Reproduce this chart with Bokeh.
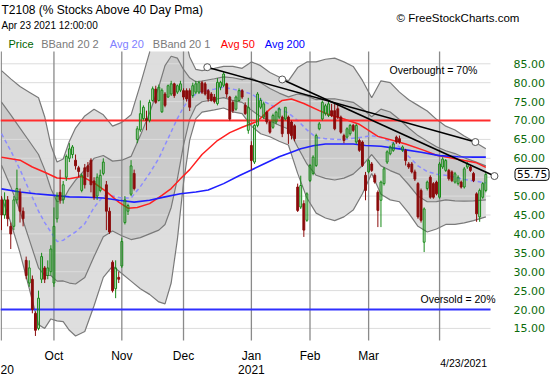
import numpy as np
from bokeh.plotting import figure
from bokeh.models import Label, Range1d
from bokeh.embed import file_html
from bokeh.resources import INLINE

# ---------------- data ----------------
# daily candles, trading-day index 0 = Sep 8 2020 ... 157 = Apr 23 2021
opens = [49, 45, 49, 42, 42, 49, 51, 46, 33, 27,
         28, 19, 15, 28, 31, 29, 30, 27, 44, 51,
         49, 55, 60, 61, 59.5, 57.5, 51.5, 57.5, 58, 59.5,
         54, 50, 51.5, 56, 53, 46, 32.5, 25.5, 28.5, 31.5,
         43, 46, 50.5, 56, 65, 67.5, 70.5, 70.5, 70, 75.3,
         78.3, 75.3, 72.3, 77, 76.2, 77, 79.7, 77.5, 78, 77.9,
         77.9, 77.9, 76.6, 77.5, 77.5, 80, 79.7, 77.9, 77, 76.2,
         74.5, 78.8, 79.3, 79.7, 76.2, 74.8, 73, 75.3, 77.9, 74,
         67.4, 63.4, 59, 68.7, 73.5, 70.9, 72.2, 69.6, 68.2, 69.6,
         70.9, 70.9, 70.4, 70.9, 69.6, 68.6, 52.4, 47.1, 48, 43.6,
         54.1, 56, 58.1, 67.8, 70.4, 71.8, 71.3, 72.6, 72.6, 73.1,
         70.9, 66, 65.6, 66.5, 68.7, 64.3, 64.7, 64.3, 55.5, 56.4,
         58.5, 55.5, 51, 48.9, 53.3, 59, 61.2, 62.1, 65.6, 65.2,
         62.1, 62.1, 58.5, 58.5, 56.4, 53.3, 51.5, 37.8, 52, 55,
         53.3, 53.7, 49.7, 57.7, 56.8, 56.8, 56.4, 53.7, 53.3, 53.7,
         52.4, 57.7, 57.7, 56, 50.6, 44.5, 49.7, 51.5]
highs = [50, 51, 50, 43, 50, 57, 52, 47, 34, 33,
         29, 19.5, 25, 35, 31.5, 33, 37, 47, 51, 57,
         54, 61, 64, 63.5, 61, 58, 56, 58.5, 59, 60,
         55, 56, 57, 60, 54, 47, 33, 33, 30, 39,
         50, 48, 59.5, 57, 68.5, 75.3, 74, 72.6, 75.5, 79,
         79.2, 79.5, 78.5, 77.5, 79.5, 80.5, 80, 79.5, 80.5, 78.5,
         78.5, 78.5, 80, 80.5, 80.5, 80.5, 80.2, 78.3, 77.5, 77,
         81.2, 80.5, 82.8, 80, 76.5, 75.3, 76.6, 78.5, 78.3, 74.8,
         76, 64.5, 69, 77.5, 76, 75, 72.6, 70, 71.8, 72.6,
         73.5, 71.3, 73.5, 71.3, 70, 69, 53.3, 55.4, 48.9, 51,
         58.5, 60.8, 66.5, 69.6, 75.3, 74.4, 75.3, 74.4, 74.4, 74.4,
         71.3, 66.5, 68.2, 69.1, 69.1, 69.1, 65.2, 64.7, 56.4, 59.8,
         59, 56, 51.5, 54.1, 57.7, 62.1, 63.4, 64.3, 66, 66,
         63.4, 62.5, 59, 59, 57, 53.7, 52, 47, 54.1, 55.5,
         53.7, 54.1, 59, 60.3, 59.8, 57.2, 56.8, 56.4, 55.5, 54.1,
         57.7, 59, 58.1, 56.4, 51, 52, 53.7, 56.5]
lows = [41, 44, 42, 36, 41, 48, 43, 42, 28, 26,
        19, 13, 14.5, 27, 27, 28, 29, 26, 43, 48,
        48, 54, 59, 60, 57, 55, 51, 52, 55, 51,
        49, 49, 51, 55.5, 41, 40, 24.5, 23, 27, 31,
        42.5, 45, 50, 51.5, 64, 67, 70, 67.4, 69.5, 75,
        74.4, 75, 72, 73.5, 76, 76.5, 76, 77, 77.5, 75.5,
        75, 72.5, 76, 77, 77, 77, 76.6, 75, 75, 74.5,
        74, 78, 78.8, 76, 70, 72, 72.6, 75, 75.7, 71.5,
        66.5, 56.8, 58.5, 68.2, 73, 70.4, 69, 66.5, 67.8, 69,
        70.4, 65.6, 70, 63.8, 65, 64.5, 45.8, 46.6, 39.2, 43.2,
        53.7, 55.5, 57.7, 67.4, 70, 71.3, 70.9, 70.9, 67.4, 70.4,
        66.5, 64, 65.2, 66, 67, 63.8, 61.7, 57.7, 48.9, 56,
        56.4, 53.3, 41.8, 41.8, 52.8, 58.5, 60.8, 61.7, 63.8, 63.8,
        61.7, 58.1, 57.2, 56, 54, 44, 43, 35.2, 51.5, 49.3,
        49.3, 50.2, 49.3, 57.2, 56.4, 54.1, 53.7, 53.3, 52.8, 52,
        52, 57.2, 56.4, 53.7, 43.2, 43.2, 49.3, 51]
closes = [45, 49, 44, 40, 49, 52, 46, 44, 29, 31,
          20, 14.5, 23, 34, 28, 31, 36, 42, 50, 49,
          53, 60.5, 62.5, 63, 58, 56.5, 55.5, 53, 56.5, 53,
          49.7, 55, 55.5, 59, 46, 40.5, 25, 31, 28, 38,
          49, 47.5, 58, 52, 67.8, 71.8, 73.5, 70, 74.8, 78.4,
          74.8, 78.8, 78, 74, 79.2, 79.7, 76.6, 79.2, 79.7, 76.2,
          75.7, 73.5, 79.2, 79.7, 80, 77.5, 77, 75.7, 75.3, 75,
          80.1, 80.1, 82.3, 77, 70.4, 72.6, 76.2, 77.9, 76.2, 71.8,
          73.5, 59.4, 68.7, 77, 75.3, 74.4, 69.6, 66.9, 71.3, 72.2,
          73.1, 66.5, 73.5, 66.5, 66, 65.2, 46.2, 52.8, 41, 50.6,
          58.1, 60.3, 66, 69.1, 74.8, 73.9, 74.4, 71.3, 67.8, 70.9,
          66.9, 64.7, 67.8, 68.7, 67.4, 68.7, 62.1, 58.1, 51.5, 59.4,
          56.8, 53.7, 46.2, 53.7, 57.2, 61.7, 63, 63.8, 64.3, 64.3,
          63, 59.4, 57.7, 56.4, 54.5, 44.5, 43.6, 46.6, 53.7, 49.7,
          49.7, 50.6, 58.5, 59.8, 59.4, 54.6, 54.1, 55.9, 55, 52.4,
          57.2, 58.5, 56.8, 54.1, 45.3, 51.5, 53.3, 55.75]

# Bollinger (20-day) middle line and its 2-sigma half width, read at sample days
band_days = [0, 3, 6, 9, 12, 14, 16, 18, 20, 22, 24, 27, 30, 33, 36, 39, 42, 45, 48, 51,
             53, 55, 57, 59, 61, 63, 65, 69, 72, 75, 78, 81, 84, 87, 90, 93, 96, 99, 102, 105,
             108, 111, 114, 117, 120, 123, 126, 129, 132, 135, 138, 141, 144, 147, 150, 153, 157]
avg20 = [66.5, 62, 57, 51.5, 46, 43, 40.5, 38, 38.3, 39.5, 40.5, 42.7, 47, 50, 50, 49.5, 49.5, 52.5, 56, 60,
         63.5, 67, 70.5, 73.5, 75.8, 77, 77.7, 78.3, 78.8, 78.3, 77.8, 77, 75.5, 74.2, 73, 72, 70, 67.5, 65.5, 65.2,
         65, 65, 65.3, 65.6, 66, 65.5, 64.5, 63, 60.5, 58, 56.5, 55.8, 55.5, 55, 54.4, 54, 53.5]
band_2sd = [16.7, 19, 22, 26, 30, 28, 23, 21, 21.5, 25, 27.5, 28.5, 26, 21.5, 18.5, 20, 22, 27, 32, 38,
            42, 40, 32, 20, 11, 6.5, 5.5, 5.5, 5.5, 6, 6, 8.5, 9, 8.5, 8.5, 8.5, 14, 18, 20, 21,
            21.5, 20.5, 19, 15, 10, 15, 15.5, 14.5, 15, 16, 16, 14.5, 13, 12.5, 11.5, 10.5, 9]

ma50_days = [0, 6, 10, 14, 18, 22, 26, 30, 34, 38, 41, 44, 48, 52, 55, 58, 61, 65, 70, 74,
             78, 83, 87, 91, 94, 98, 103, 107, 111, 116, 119, 122, 127, 131, 137, 141, 145, 150, 154, 157]
avg50 = [60.3, 59.5, 57.7, 56.3, 54.8, 54.6, 55.2, 53.5, 51.2, 48.4, 46.8, 47, 48, 50.2, 52, 54.6, 57, 61, 64.7, 66.8,
         68.2, 69.8, 73, 75.3, 75.7, 74.5, 72.6, 71.3, 70.4, 69, 67.4, 65.8, 64.7, 63.8, 62.1, 60.8, 60.2, 59.4, 58.8, 57.6]

ma200_days = [0, 6, 11, 17, 22, 28, 33, 38, 43, 48, 53, 58, 63, 67, 72, 77, 81, 85, 90, 94,
              97, 101, 105, 110, 114, 118, 123, 129, 136, 142, 148, 153, 157]
avg200 = [51.9, 51.1, 50.6, 50.2, 49.8, 49.7, 49.5, 48.9, 48.4, 48.9, 49.8, 50.6, 51.1, 51.6, 53.3, 55.4, 56.9, 58.5, 60.4, 61.6,
          62.5, 63.3, 63.8, 63.8, 63.8, 63.4, 63.2, 62.5, 61.6, 60.7, 60.4, 60.3, 60.3]

trend_days = [[66.7, 153.6], [91.0, 159.8]]
trend_values = [[84.1, 64.3], [80.85, 55.3]]

overbought = 70
oversold = 20
y_ticks = [15, 20, 25, 30, 35, 40, 45, 50, 55, 60, 65, 70, 75, 80, 85]
month_names = ["Oct", "Nov", "Dec", "Jan", "Feb", "Mar"]
month_days = [17, 39, 59, 81, 100, 119]
april_day = 142
last_date_label = "4/23/2021"
last_date_day = 149.8

legend_names = ["Price", "BBand 20 2", "Avg 20", "BBand 20 1", "Avg 50", "Avg 200"]
legend_colors = ["#006400", "#7a7a7a", "#8080ff", "#7a7a7a", "#ff0000", "#0000ff"]

# ---------------- layout ----------------
W, H = 550, 375
PLOT_T, PLOT_H = 51, 289          # price area inside the canvas (pixels)
Y0, Y1 = 11.8, 88.25              # value range of the price area
PX_DAY = 3.085
X0 = -1 / PX_DAY
X_LINES_END = (490 - 1) / PX_DAY
PX_VAL = PLOT_H / (Y1 - Y0)


def vy(fy):
    return Y1 - (fy - PLOT_T) / PX_VAL


def dx(fx):
    return X0 + fx / PX_DAY


p = figure(width=W, height=H, x_range=Range1d(X0, dx(W)), y_range=Range1d(vy(H), vy(0)),
           output_backend="svg", toolbar_location=None,
           x_axis_location=None, y_axis_location=None,
           min_border_left=0, min_border_right=0, min_border_top=0, min_border_bottom=0)
p.outline_line_color = None
p.xgrid.visible = False
p.ygrid.visible = False


def clip_top(xs, ys, ymax):
    """Break a polyline where it leaves the price area at the top."""
    ox, oy = [], []
    for i, (x, y) in enumerate(zip(xs, ys)):
        if i > 0:
            xp, yp = xs[i - 1], ys[i - 1]
            if (yp <= ymax) != (y <= ymax):
                xc = xp + (ymax - yp) / (y - yp) * (x - xp)
                ox.append(xc)
                oy.append(ymax)
                if y > ymax:
                    ox.append(np.nan)
                    oy.append(np.nan)
        if y <= ymax:
            ox.append(x)
            oy.append(y)
    return ox, oy


# Bollinger bands
upper2 = [m + w for m, w in zip(avg20, band_2sd)]
upper1 = [m + w / 2 for m, w in zip(avg20, band_2sd)]
lower1 = [m - w / 2 for m, w in zip(avg20, band_2sd)]
lower2 = [m - w for m, w in zip(avg20, band_2sd)]

cx, _ = clip_top(band_days, upper2, Y1)
fill_x = sorted(set([x for x in cx if x == x] + band_days))
fill_top = np.minimum(np.interp(fill_x, band_days, upper2), Y1)
fill_bot = np.interp(fill_x, band_days, lower2)
p.varea(x=fill_x, y1=fill_bot, y2=fill_top, fill_color="#9a9a9a", fill_alpha=0.33)
p.varea(x=band_days, y1=lower1, y2=upper1, fill_color="#9a9a9a", fill_alpha=0.28)

# grid lines
n = len(y_ticks)
p.segment(x0=[X0] * n, y0=y_ticks, x1=[X_LINES_END] * n, y1=y_ticks,
          line_color="#dcdcdc", line_width=1)
vdays = month_days + [april_day, X0 + 0.25]
p.segment(x0=vdays, y0=[Y0] * len(vdays), x1=vdays, y1=[Y1] * len(vdays),
          line_color="#8a8a8a", line_width=1.3)

for arr in (upper2, upper1, lower1, lower2):
    lx, ly = clip_top(band_days, arr, Y1)
    p.line(lx, ly, line_color="#7a7a7a", line_width=1.2)

# moving averages
p.line(band_days, avg20, line_color="#8c8cff", line_width=1.5, line_dash="4 3")
p.line(ma50_days, avg50, line_color="#ff2020", line_width=1.5)
p.line(ma200_days, avg200, line_color="#1f1fff", line_width=1.6)

# overbought / oversold
p.segment(x0=[X0, X0], y0=[overbought, oversold], x1=[X_LINES_END] * 2, y1=[overbought, oversold],
          line_color=["#ff2d2d", "#3030ff"], line_width=2)

# candles
days = list(range(len(closes)))
up = [c >= o for o, c in zip(opens, closes)]
cols = ["#178a17" if u else "#8b0b0b" for u in up]
tops = [max(o, c) for o, c in zip(opens, closes)]
bots = [min(o, c) for o, c in zip(opens, closes)]
p.segment(x0=days, y0=highs, x1=days, y1=tops, line_color=cols, line_width=1)
p.segment(x0=days, y0=bots, x1=days, y1=lows, line_color=cols, line_width=1)
p.vbar(x=days, width=0.6, top=tops, bottom=bots, fill_color=cols,
       fill_alpha=[0.15 if u else 1 for u in up], line_color=cols, line_width=1)

# trend lines
for tx, tv in zip(trend_days, trend_values):
    p.line(tx, tv, line_color="black", line_width=1.6)
    p.scatter(tx, tv, marker="circle", size=7, line_color="#555555", fill_color="white", line_width=1)


def txt(text, x, y, size, color="black", font="Liberation Sans", align="left", **kw):
    p.add_layout(Label(x=x, y=y, text=text, text_font=font, text_font_size=size,
                       text_color=color, text_align=align, text_baseline="middle", **kw))


# value scale on the right
for t in y_ticks:
    if t != 55:
        txt(f"{t:.2f}", dx(513), t, "11px", color="#0b6b0b", font="DejaVu Sans")

# last value box
txt(f"{closes[-1]:.2f}", dx(514.5), closes[-1], "10.5px", font="DejaVu Sans",
    border_line_color="black", background_fill_color="white", padding=2, border_radius=3)

# header
txt("T2108 (% Stocks Above 40 Day Pma)", dx(1), vy(9.5), "12px")
txt("Apr 23 2021 12:00:00", dx(1), vy(25), "10px")
txt("\u00a9 FreeStockCharts.com", dx(396), vy(17), "11.5px")
legend_x = [8, 40.7, 109.3, 152.3, 220.3, 264.3]
for name, col, lx in zip(legend_names, legend_colors, legend_x):
    txt(name, dx(lx), vy(43), "11px", color=col)

# in-plot notes
txt("Overbought = %d%%" % overbought, dx(389), vy(69), "10.5px")
txt("Oversold = %d%%" % oversold, dx(420), vy(298), "10.5px")

# time labels
for name, d in zip(month_names, month_days):
    txt(name, d, vy(355), "12px", align="center")
txt("2021", month_days[3], vy(368.5), "12px", align="center")
txt("20", dx(0), vy(368.5), "12px")
txt(last_date_label, last_date_day, vy(362), "10.5px", align="center")

open("out.html", "w").write(file_html(p, INLINE))
